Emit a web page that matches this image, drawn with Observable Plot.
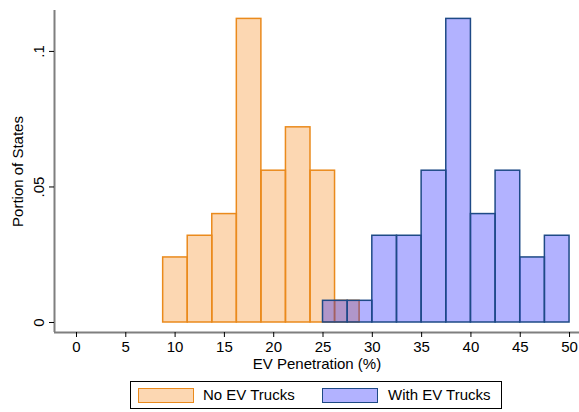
<!DOCTYPE html>
<html>
<head>
<meta charset="utf-8">
<script src="https://cdn.jsdelivr.net/npm/d3@7"></script>
<script src="https://cdn.jsdelivr.net/npm/@observablehq/plot@0.6"></script>
<style>
  html, body { margin: 0; padding: 0; background: #fff; }
  body { width: 579px; height: 412px; position: relative; overflow: hidden;
         font-family: "Liberation Sans", Arial, sans-serif; }
  #chart { position: absolute; left: 0; top: 0; }
  #legend { position: absolute; left: 130px; top: 381px; width: 372px; height: 28px;
            box-sizing: border-box; border: 1px solid #000; background: #fff; }
  .sw { position: absolute; top: 6px; width: 56px; height: 15px; box-sizing: border-box; border: 1.5px solid; }
  .lt { position: absolute; top: 4px; font-size: 15px; line-height: 18px; color: #000; white-space: nowrap; }
</style>
</head>
<body>
<div id="chart"></div>
<div id="legend"></div>
<script>
// Bin edges and densities
const noEvLeft   = [8.79, 11.28, 13.77, 16.26, 18.75, 21.24, 23.73, 26.22];
const noEvRight  = [11.28, 13.77, 16.26, 18.75, 21.24, 23.73, 26.22, 28.71];
const noEvValue  = [0.024, 0.032, 0.040, 0.112, 0.056, 0.072, 0.056, 0.008];

const withEvLeft  = [25, 27.5, 30, 32.5, 35, 37.5, 40, 42.5, 45, 47.5];
const withEvRight = [27.5, 30, 32.5, 35, 37.5, 40, 42.5, 45, 47.5, 50];
const withEvValue = [0.008, 0.008, 0.032, 0.032, 0.056, 0.112, 0.040, 0.056, 0.024, 0.032];

const xTicks = [0, 5, 10, 15, 20, 25, 30, 35, 40, 45, 50];
const yTicks = [0, 0.05, 0.1];
const yTickLabels = ["0", ".05", ".1"];
const seriesNames = ["No EV Trucks", "With EV Trucks"];

const orangeFill = "#F47B00", orangeStroke = "#EA8A1C";
const blueFill = "#0000FF", blueStroke = "#1E4A86";

const noEv = noEvLeft.map((l, i) => ({x1: l, x2: noEvRight[i], y: noEvValue[i]}));
const withEv = withEvLeft.map((l, i) => ({x1: l, x2: withEvRight[i], y: withEvValue[i]}));

const xDomain = [-2.23, 51.01];
const yDomain = [-0.00369, 0.1151];

const chart = Plot.plot({
  width: 579,
  height: 378,
  marginLeft: 54,
  marginRight: 0,
  marginTop: 10,
  marginBottom: 46,
  style: {fontFamily: "'Liberation Sans', Arial, sans-serif", fontSize: "15px", background: "transparent"},
  x: {domain: xDomain},
  y: {domain: yDomain},
  marks: [
    Plot.rectY(noEv, {x1: "x1", x2: "x2", y1: 0, y2: "y", fill: orangeFill, fillOpacity: 0.3, stroke: orangeStroke, strokeWidth: 1.5}),
    Plot.rectY(withEv, {x1: "x1", x2: "x2", y1: 0, y2: "y", fill: blueFill, fillOpacity: 0.3, stroke: blueStroke, strokeWidth: 1.5}),
    Plot.ruleY([yDomain[0]], {stroke: "#7f7f7f", strokeWidth: 2}),
    Plot.ruleX([xDomain[0]], {stroke: "#7f7f7f", strokeWidth: 2}),
    Plot.axisX(xTicks, {tickSize: 5, tickPadding: 4, fontSize: 15, label: null, stroke: "#000"}),
    Plot.axisY(yTicks, {tickSize: 5, tickFormat: () => "", label: null, stroke: "#000"}),
    Plot.text(yTicks, {y: d => d, text: (d, i) => yTickLabels[i], frameAnchor: "left", dx: -15, rotate: -90, textAnchor: "middle", fontSize: 15, fill: "#000"}),
    Plot.text(["Portion of States"], {text: d => d, frameAnchor: "left", dx: -36, rotate: -90, textAnchor: "middle", fontSize: 15, fill: "#000"}),
    Plot.text(["EV Penetration (%)"], {text: d => d, frameAnchor: "bottom", dy: 32, lineAnchor: "middle", fontSize: 15, fill: "#000"})
  ]
});
document.getElementById("chart").appendChild(chart);

// Legend
const legend = document.getElementById("legend");
const items = [
  {name: seriesNames[0], fill: "rgba(244,123,0,0.3)", stroke: orangeStroke, sw: 6.5, tx: 72},
  {name: seriesNames[1], fill: "rgba(0,0,255,0.3)", stroke: blueStroke, sw: 191, tx: 257}
];
for (const it of items) {
  const s = document.createElement("div");
  s.className = "sw";
  s.style.left = it.sw + "px";
  s.style.background = it.fill;
  s.style.borderColor = it.stroke;
  legend.appendChild(s);
  const t = document.createElement("div");
  t.className = "lt";
  t.style.left = it.tx + "px";
  t.textContent = it.name;
  legend.appendChild(t);
}
</script>
</body>
</html>
